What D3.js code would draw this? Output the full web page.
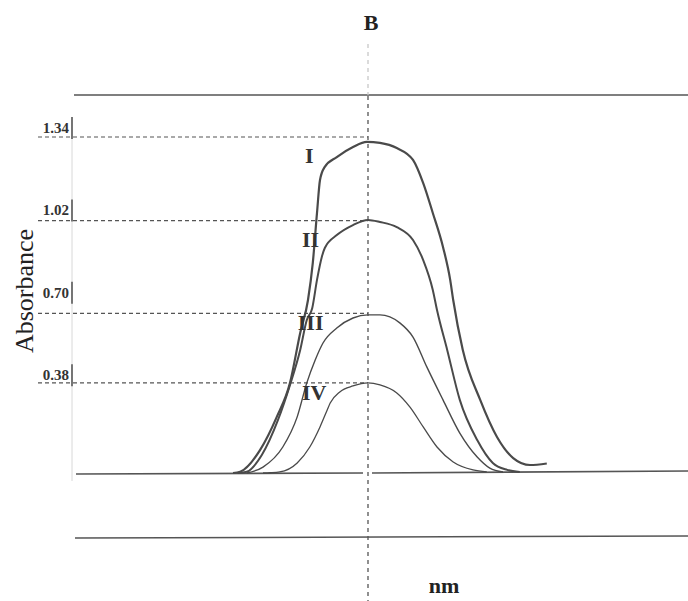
<!DOCTYPE html>
<html>
<head>
<meta charset="utf-8">
<script src="https://cdn.jsdelivr.net/npm/d3@7"></script>
<style>
  body { margin: 0; background: #fff; }
  text { font-family: "Liberation Serif", "Times New Roman", serif; fill: #222; }
</style>
</head>
<body>
<div id="chart"></div>
<script>
// curve names and values (x in arbitrary nm units, y in absorbance)
var categories = ["I", "II", "III", "IV"];
var tickValues = [1.34, 1.02, 0.70, 0.38];
var tickLabels = ["1.34", "1.02", "0.70", "0.38"];
var peakGuides = [1.305, 0.98, 0.62, 0.35];

var curveI = [[27.5, 0], [28.7, 0.005], [32.0, 0.089], [34.8, 0.218], [37.0, 0.350], [38.7, 0.544],
  [40.0, 0.672], [40.8, 0.816], [41.5, 1.010], [42.0, 1.138], [42.8, 1.189], [44.8, 1.227],
  [47.5, 1.266], [49.8, 1.286], [52.0, 1.282], [54.8, 1.262], [57.5, 1.216], [59.2, 1.126],
  [60.8, 1.010], [62.5, 0.878], [63.7, 0.750], [64.2, 0.672], [65.8, 0.478], [68.7, 0.284],
  [71.5, 0.140], [74.2, 0.058], [77.0, 0.031], [79.8, 0.037]];
var curveII = [[28.3, 0], [29.8, 0.005], [32.3, 0.070], [35.0, 0.206], [37.0, 0.342], [38.7, 0.478],
  [39.8, 0.594], [40.7, 0.640], [41.5, 0.750], [42.3, 0.839], [42.8, 0.874], [44.8, 0.924],
  [47.5, 0.963], [50.0, 0.983], [52.0, 0.975], [54.8, 0.955], [57.5, 0.905], [59.2, 0.827],
  [60.8, 0.711], [61.5, 0.633], [63.2, 0.478], [65.3, 0.284], [68.2, 0.128], [70.8, 0.039],
  [73.2, 0.012], [75.3, 0.004]];
var curveIII = [[29.8, 0], [32.5, 0.023], [35.8, 0.101], [38.2, 0.218], [39.8, 0.350], [41.2, 0.439],
  [42.5, 0.505], [44.8, 0.563], [47.5, 0.602], [50.0, 0.614], [52.0, 0.614], [55.3, 0.583],
  [57.5, 0.528], [59.8, 0.412], [62.5, 0.284], [65.3, 0.155], [68.2, 0.062], [70.3, 0.019],
  [72.5, 0.004]];
var curveIV = [[32.5, 0], [33.7, 0.001], [35.3, 0.004], [38.2, 0.039], [40.3, 0.101], [42.0, 0.179],
  [43.2, 0.245], [43.7, 0.272], [45.3, 0.315], [47.5, 0.338], [50.0, 0.350], [52.0, 0.342],
  [54.8, 0.311], [57.0, 0.256], [59.2, 0.179], [61.5, 0.101], [64.2, 0.043], [67.5, 0.012],
  [69.8, 0.004]];
var seriesValues = [curveI, curveII, curveIII, curveIV];
var peakAt = 50;

var width = 688, height = 601;

var svg = d3.select("#chart").append("svg")
	.attr("width", width)
	.attr("height", height);

var x = d3.scaleLinear().domain([0, 100]).range([68, 668]);
var y = d3.scaleLinear().domain([0, 1.34]).range([473, 128]);

var ink = "#555";

// frame lines of the paper form
svg.append("line")
	.attr("x1", 74).attr("x2", width)
	.attr("y1", 95).attr("y2", 95)
	.style("stroke", ink).style("stroke-width", 1.5);
svg.append("line")
	.attr("x1", 75).attr("x2", width)
	.attr("y1", 538).attr("y2", 536)
	.style("stroke", ink).style("stroke-width", 1.5);

// baseline (zero), broken where the dashed peak line crosses
svg.append("line")
	.attr("x1", 76).attr("x2", x(peakAt) - 5)
	.attr("y1", y(0) + 1).attr("y2", y(0))
	.style("stroke", ink).style("stroke-width", 1.6);
svg.append("line")
	.attr("x1", x(peakAt) + 4).attr("x2", width)
	.attr("y1", y(0)).attr("y2", y(0) - 2)
	.style("stroke", ink).style("stroke-width", 1.6);

// faint y axis line with short marks at the labels
svg.append("line")
	.attr("x1", 72).attr("x2", 72)
	.attr("y1", y(1.34) - 11).attr("y2", y(0) + 8)
	.style("stroke", "#d8d8d8").style("stroke-width", 1);

var ticks = svg.selectAll(".tick")
	.data(tickValues)
	.enter()
	.append("g")
	.attr("class", "tick");
ticks.append("line")
	.attr("x1", 72).attr("x2", 72)
	.attr("y1", function (d) { return y(d) - 11; })
	.attr("y2", function (d) { return y(d) + 11; })
	.style("stroke", "#444").style("stroke-width", 1.4);
ticks.append("text")
	.attr("x", 69)
	.attr("y", function (d) { return y(d) + 5; })
	.attr("text-anchor", "end")
	.style("font-size", "15px")
	.style("font-weight", "bold")
	.style("fill", "#333")
	.text(function (d, i) { return tickLabels[i]; });

// dashed guides from the axis to each peak
svg.selectAll(".guide")
	.data(peakGuides)
	.enter()
	.append("line")
	.attr("class", "guide")
	.attr("x1", 38)
	.attr("x2", x(peakAt))
	.attr("y1", function (d) { return y(d); })
	.attr("y2", function (d) { return y(d); })
	.style("stroke", ink)
	.style("stroke-width", 1.2)
	.style("stroke-dasharray", "4,3");

// vertical dashed line at the absorption maximum (faint above the frame)
svg.append("line")
	.attr("x1", x(peakAt)).attr("x2", x(peakAt))
	.attr("y1", 44).attr("y2", 95)
	.style("stroke", "#c8c8c8")
	.style("stroke-width", 1.3)
	.style("stroke-dasharray", "4,4");
svg.append("line")
	.attr("x1", x(peakAt)).attr("x2", x(peakAt))
	.attr("y1", 96).attr("y2", height)
	.style("stroke", ink)
	.style("stroke-width", 1.3)
	.style("stroke-dasharray", "4,4");

// spectra
var line = d3.line()
	.x(function (d) { return x(d[0]); })
	.y(function (d) { return y(d[1]); })
	.curve(d3.curveMonotoneX);

var strokeWidths = [2.2, 2.0, 1.4, 1.3];
svg.selectAll(".spectrum")
	.data(seriesValues)
	.enter()
	.append("path")
	.attr("class", "spectrum")
	.attr("d", line)
	.style("fill", "none")
	.style("stroke", "#4a4a4a")
	.style("stroke-width", function (d, i) { return strokeWidths[i]; });

// roman numeral labels
var labelPos = [[39.5, 1.205], [39.0, 0.878], [38.3, 0.555], [39.0, 0.283]];
svg.selectAll(".numeral")
	.data(categories)
	.enter()
	.append("text")
	.attr("class", "numeral")
	.attr("x", function (d, i) { return x(labelPos[i][0]); })
	.attr("y", function (d, i) { return y(labelPos[i][1]); })
	.style("font-size", "22px")
	.style("font-weight", "bold")
	.style("fill", "#333")
	.text(function (d) { return d; });

// titles
svg.append("text")
	.attr("x", 371).attr("y", 30)
	.attr("text-anchor", "middle")
	.style("font-size", "22px")
	.style("font-weight", "bold")
	.text("B");

svg.append("text")
	.attr("x", 444).attr("y", 593)
	.attr("text-anchor", "middle")
	.style("font-size", "22px")
	.style("font-weight", "bold")
	.text("nm");

svg.append("text")
	.attr("transform", "translate(33,291) rotate(-90)")
	.attr("text-anchor", "middle")
	.style("font-size", "26px")
	.text("Absorbance");
</script>
</body>
</html>
